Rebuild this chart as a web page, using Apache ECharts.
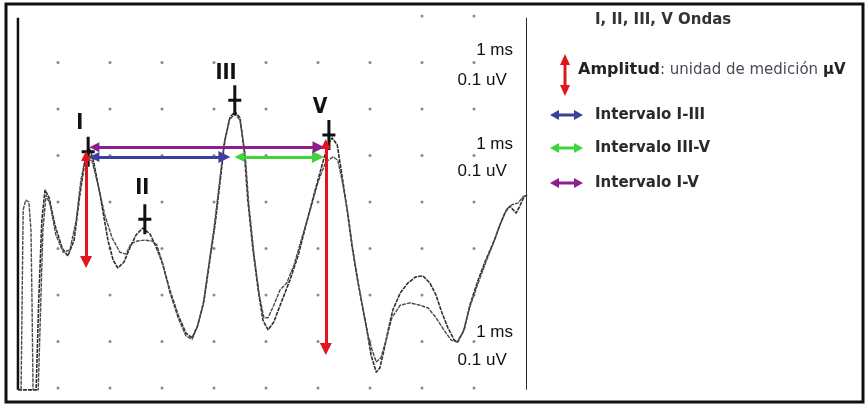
<!DOCTYPE html>
<html><head><meta charset="utf-8">
<script src="https://cdn.jsdelivr.net/npm/echarts@6/dist/echarts.min.js"></script>
<style>html,body{margin:0;padding:0;background:#fff}#c{width:868px;height:407px}</style>
</head><body><div id="c"></div>
<script>
// x: ms (1 division = 1 ms), y: divisions (0.1 uV per division)
const traceA = [[0.23,-0.04],[0.58,-0.04],[0.63,1.89],[0.69,3.61],[0.75,4.26],[0.83,4.09],[0.94,3.51],[1.08,3.01],[1.19,2.84],[1.31,3.18],[1.42,4.15],[1.52,4.90],[1.60,5.16],[1.67,4.95],[1.81,4.15],[1.96,3.18],[2.06,2.75],[2.15,2.58],[2.27,2.71],[2.38,3.01],[2.50,3.29],[2.63,3.44],[2.77,3.31],[2.88,3.05],[3.00,2.71],[3.15,2.11],[3.31,1.57],[3.46,1.18],[3.58,1.08],[3.69,1.35],[3.81,1.89],[3.92,2.75],[4.02,3.51],[4.12,4.47],[4.21,5.33],[4.31,5.83],[4.40,5.94],[4.50,5.81],[4.58,5.12],[4.65,4.04],[4.75,2.97],[4.85,2.11],[4.94,1.46],[5.04,1.25],[5.15,1.42],[5.31,1.89],[5.46,2.32],[5.62,2.86],[5.77,3.51],[5.92,4.15],[6.08,4.80],[6.19,5.23],[6.27,5.38],[6.37,5.23],[6.46,4.58],[6.56,3.83],[6.65,3.08],[6.75,2.39],[6.85,1.78],[6.94,1.25],[7.02,0.71],[7.12,0.34],[7.19,0.43],[7.27,0.82],[7.35,1.25],[7.44,1.68],[7.58,2.04],[7.73,2.26],[7.88,2.39],[8.02,2.41],[8.15,2.26],[8.27,2.00],[8.38,1.63],[8.50,1.29],[8.62,1.03],[8.69,0.99],[8.81,1.25],[8.92,1.78],[9.06,2.26],[9.21,2.71],[9.37,3.12],[9.50,3.51],[9.60,3.78],[9.69,3.91],[9.81,3.76],[9.88,3.91],[9.96,4.11],[10.02,4.15]];
const traceB = [[0.29,-0.04],[0.31,1.89],[0.33,3.83],[0.38,4.04],[0.44,4.00],[0.48,3.40],[0.50,1.89],[0.52,-0.04],[0.62,-0.04],[0.67,1.89],[0.71,3.40],[0.77,4.15],[0.85,3.94],[0.96,3.29],[1.10,2.92],[1.23,2.97],[1.35,3.61],[1.44,4.47],[1.54,5.01],[1.58,5.10],[1.65,4.90],[1.77,4.37],[1.90,3.72],[2.04,3.23],[2.19,2.92],[2.31,2.88],[2.40,3.10],[2.52,3.16],[2.67,3.18],[2.81,3.16],[2.90,3.08],[3.02,2.65],[3.15,2.06],[3.31,1.51],[3.46,1.12],[3.58,1.05],[3.67,1.29],[3.79,1.78],[3.90,2.65],[4.00,3.44],[4.10,4.37],[4.19,5.23],[4.29,5.76],[4.40,5.89],[4.50,5.76],[4.60,5.01],[4.67,3.94],[4.77,2.86],[4.87,2.00],[4.96,1.51],[5.04,1.51],[5.15,1.78],[5.27,2.11],[5.40,2.26],[5.54,2.65],[5.69,3.23],[5.85,3.83],[6.00,4.43],[6.15,4.86],[6.29,4.97],[6.38,4.90],[6.48,4.37],[6.58,3.72],[6.67,2.97],[6.77,2.28],[6.87,1.68],[6.96,1.14],[7.04,0.82],[7.12,0.56],[7.21,0.65],[7.31,1.03],[7.42,1.51],[7.58,1.78],[7.77,1.83],[7.96,1.78],[8.12,1.72],[8.27,1.51],[8.42,1.25],[8.56,1.03],[8.67,0.99],[8.79,1.20],[8.92,1.74],[9.08,2.26],[9.23,2.71],[9.38,3.14],[9.52,3.57],[9.63,3.85],[9.73,3.94],[9.85,3.98],[9.94,4.11],[10.02,4.15]];
const leftEdge = [[0.23,7.96],[0.23,-0.04]];
const rightEdge = [[10.02,7.96],[10.02,-0.04]];
const waveNames = ['I','II','III','V'];
const waveMarks = [[1.58,5.08],[2.67,3.63],[4.40,6.19],[6.21,5.44]];
const waveLabelPos = [[1.42,5.68],[2.62,4.30],[4.23,6.77],[6.04,6.04]];
const ampArrows = [[[1.54,4.99],[1.54,2.71]],[[6.15,5.25],[6.15,0.84]]];
const intervalNames = ['Intervalo I-III','Intervalo III-V','Intervalo I-V'];
const intervalArrows = [[[1.70,4.97],[4.20,4.97]],[[4.49,4.97],[6.00,4.97]],[[1.70,5.18],[6.01,5.18]]];
const gridCols = [1,2,3,4,5,6,7,8,9];
const gridRows = [0,1,2,3,4,5,6,7];
const topRowCols = [8,9];
const scaleTexts = ['1 ms','0.1 uV','1 ms','0.1 uV','1 ms','0.1 uV'];
const scaleX = [9.75,9.63,9.75,9.63,9.75,9.63];
const scaleY = [7.27,6.62,5.23,4.65,1.20,0.60];
const legendTitle = 'I, II, III, V Ondas';

const RED='#e0161c', BLUE='#3b3f9e', GREEN='#3fd43a', PURPLE='#8c1f8c';
const intervalColors=[BLUE,GREEN,PURPLE];

const dots=[];
gridRows.forEach(r=>gridCols.forEach(c=>dots.push([c,r])));
topRowCols.forEach(c=>dots.push([c,8]));

const chart = echarts.init(document.getElementById('c'));
function hArrow(x1,x2,y,color){
  return {type:'group',children:[
    {type:'line',shape:{x1:x1+6,y1:y,x2:x2-6,y2:y},style:{stroke:color,lineWidth:3}},
    {type:'polygon',shape:{points:[[x1,y],[x1+9,y-5],[x1+9,y+5]]},style:{fill:color}},
    {type:'polygon',shape:{points:[[x2,y],[x2-9,y-5],[x2-9,y+5]]},style:{fill:color}}
  ]};
}
const legendY=[115,148,183];
const graphic=[
  {type:'rect',shape:{x:6,y:4,width:857,height:398},style:{fill:'none',stroke:'#111',lineWidth:3},z:100},
  {type:'text',style:{text:legendTitle,x:595,y:20,verticalAlign:'middle',font:'bold 15px "DejaVu Sans"',fill:'#333'}},
  {type:'group',children:[
    {type:'line',shape:{x1:565,y1:62,x2:565,y2:88},style:{stroke:RED,lineWidth:3}},
    {type:'polygon',shape:{points:[[565,54],[560,65],[570,65]]},style:{fill:RED}},
    {type:'polygon',shape:{points:[[565,96],[560,85],[570,85]]},style:{fill:RED}}
  ]},
  {type:'text',style:{text:'{a|Amplitud}{b|: unidad de medición }{c|µV}',x:578,y:70,verticalAlign:'middle',
    rich:{a:{font:'bold 16px "DejaVu Sans"',fill:'#222'},b:{font:'15px "DejaVu Sans"',fill:'#4d4858'},c:{font:'bold 15px "DejaVu Sans"',fill:'#222'}}}}
];
intervalNames.forEach((n,i)=>{
  graphic.push(hArrow(550,583,legendY[i],intervalColors[i]));
  graphic.push({type:'text',style:{text:n,x:595,y:legendY[i],verticalAlign:'middle',font:'bold 15px "DejaVu Sans"',fill:'#2a2a2a'}});
});

const crossPath='path://M5,0H8V30H5Z M0,13.5H13V16.5H0Z';
chart.setOption({
  animation:false,
  grid:{left:6,top:16,width:520,height:372},
  xAxis:{type:'value',min:0,max:10,show:false},
  yAxis:{type:'value',min:0,max:8,show:false},
  graphic:graphic,
  series:[
    {type:'scatter',data:dots,symbolSize:3,itemStyle:{color:'#8a8a8a',opacity:1},silent:true,z:1},
    {type:'line',data:leftEdge,showSymbol:false,clip:false,lineStyle:{color:'#111',width:2.5},z:2},
    {type:'line',data:rightEdge,showSymbol:false,clip:false,lineStyle:{color:'#222',width:2},z:2},
    {type:'line',data:traceA,showSymbol:false,clip:false,lineStyle:{color:'#2e2e2e',width:1.6,type:[4,1]},z:2},
    {type:'line',data:traceB,showSymbol:false,clip:false,lineStyle:{color:'#4a4a4a',width:1.4,type:[4,1]},z:2},
    {type:'scatter',data:waveMarks,symbol:crossPath,symbolSize:[13,30],itemStyle:{color:'#111',opacity:1},clip:false,z:3},
    {type:'scatter',data:waveLabelPos.map((p,i)=>[p[0],p[1],waveNames[i]]),symbolSize:0,clip:false,z:3,itemStyle:{opacity:1},
      label:{show:true,position:'inside',formatter:p=>p.value[2],color:'#111',fontSize:21,fontWeight:'bold',fontFamily:'"Liberation Sans Narrow","DejaVu Sans Condensed",sans-serif'}},
    {type:'scatter',data:scaleTexts.map((t,i)=>[scaleX[i],scaleY[i],t]),symbolSize:0,clip:false,z:3,itemStyle:{opacity:1},
      label:{show:true,position:'left',distance:0,formatter:p=>p.value[2],color:'#111',fontSize:17,fontFamily:'"Liberation Sans",Arial,sans-serif'}},
    {type:'lines',coordinateSystem:'cartesian2d',clip:false,z:5,
      symbol:['triangle','triangle'],symbolSize:[10,12],
      lineStyle:{width:3,opacity:1},
      data:intervalArrows.map((c,i)=>({coords:c,lineStyle:{color:intervalColors[i]}})).concat(
        ampArrows.map(c=>({coords:c,lineStyle:{color:RED}})))}
  ]
});
</script></body></html>
